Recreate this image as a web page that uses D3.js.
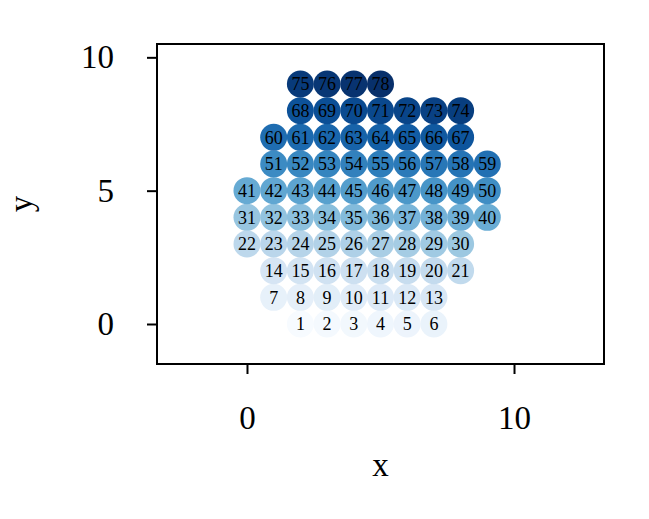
<!DOCTYPE html>
<html>
<head>
<meta charset="utf-8">
<script src="https://cdn.jsdelivr.net/npm/d3@7"></script>
<style>
  html, body { margin: 0; padding: 0; background: #fff; }
  svg { display: block; }
  text { font-family: "Liberation Serif", "DejaVu Serif", serif; }
</style>
</head>
<body>
<svg id="chart" width="649" height="519"></svg>
<script>
// Data: point labels and positions
const ids = d3.range(1, 79);
const xs = [
  2,3,4,5,6,7,
  1,2,3,4,5,6,7,
  1,2,3,4,5,6,7,8,
  0,1,2,3,4,5,6,7,8,
  0,1,2,3,4,5,6,7,8,9,
  0,1,2,3,4,5,6,7,8,9,
  1,2,3,4,5,6,7,8,9,
  1,2,3,4,5,6,7,8,
  2,3,4,5,6,7,8,
  2,3,4,5
];
const ys = [
  0,0,0,0,0,0,
  1,1,1,1,1,1,1,
  2,2,2,2,2,2,2,2,
  3,3,3,3,3,3,3,3,3,
  4,4,4,4,4,4,4,4,4,4,
  5,5,5,5,5,5,5,5,5,5,
  6,6,6,6,6,6,6,6,6,
  7,7,7,7,7,7,7,7,
  8,8,8,8,8,8,8,
  9,9,9,9
];
const xTicks = [0, 10];
const yTicks = [0, 5, 10];
const xDomain = [-3.37, 13.37];
const yDomain = [-1.5, 10.5];

const points = ids.map((id, i) => ({ id, x: xs[i], y: ys[i] }));

const svg = d3.select("#chart");
const mLeft = 157, mRight = 604, mTop = 44, mBottom = 364;

const x = d3.scaleLinear().domain(xDomain).range([mLeft, mRight]);
const y = d3.scaleLinear().domain(yDomain).range([mBottom, mTop]);
const color = d3.scaleSequential(d3.interpolateBlues).domain([1, 78]);

const g = svg.append("g");

g.selectAll("circle.pt").data(points).enter().append("circle")
  .attr("class", "pt")
  .attr("cx", d => x(d.x))
  .attr("cy", d => y(d.y))
  .attr("r", 13.5)
  .attr("fill", d => color(d.id));

g.selectAll("text.lbl").data(points).enter().append("text")
  .attr("class", "lbl")
  .attr("x", d => x(d.x))
  .attr("y", d => y(d.y))
  .attr("dy", "0.35em")
  .attr("text-anchor", "middle")
  .attr("font-size", 18)
  .attr("fill", "#000")
  .text(d => d.id);

// frame
svg.append("rect")
  .attr("x", mLeft).attr("y", mTop)
  .attr("width", mRight - mLeft).attr("height", mBottom - mTop)
  .attr("fill", "none").attr("stroke", "#000").attr("stroke-width", 2);

// axes
const xAxis = d3.axisBottom(x).tickValues(xTicks).tickSize(10).tickPadding(32).tickFormat(d3.format("d"));
const yAxis = d3.axisLeft(y).tickValues(yTicks).tickSize(10).tickPadding(33).tickFormat(d3.format("d"));

const gx = svg.append("g").attr("transform", `translate(0,${mBottom})`).call(xAxis);
const gy = svg.append("g").attr("transform", `translate(${mLeft},0)`).call(yAxis);
[gx, gy].forEach(a => {
  a.select(".domain").remove();
  a.selectAll(".tick line").attr("stroke", "#000").attr("stroke-width", 2);
  a.selectAll(".tick text").attr("font-size", 33).attr("fill", "#000")
    .attr("font-family", "'Liberation Serif', 'DejaVu Serif', serif");
});

svg.append("text")
  .attr("x", (mLeft + mRight) / 2).attr("y", 476)
  .attr("text-anchor", "middle").attr("font-size", 33).text("x");

svg.append("text")
  .attr("transform", `translate(32,${(mTop + mBottom) / 2}) rotate(-90)`)
  .attr("text-anchor", "middle").attr("font-size", 33).text("y");
</script>
</body>
</html>
